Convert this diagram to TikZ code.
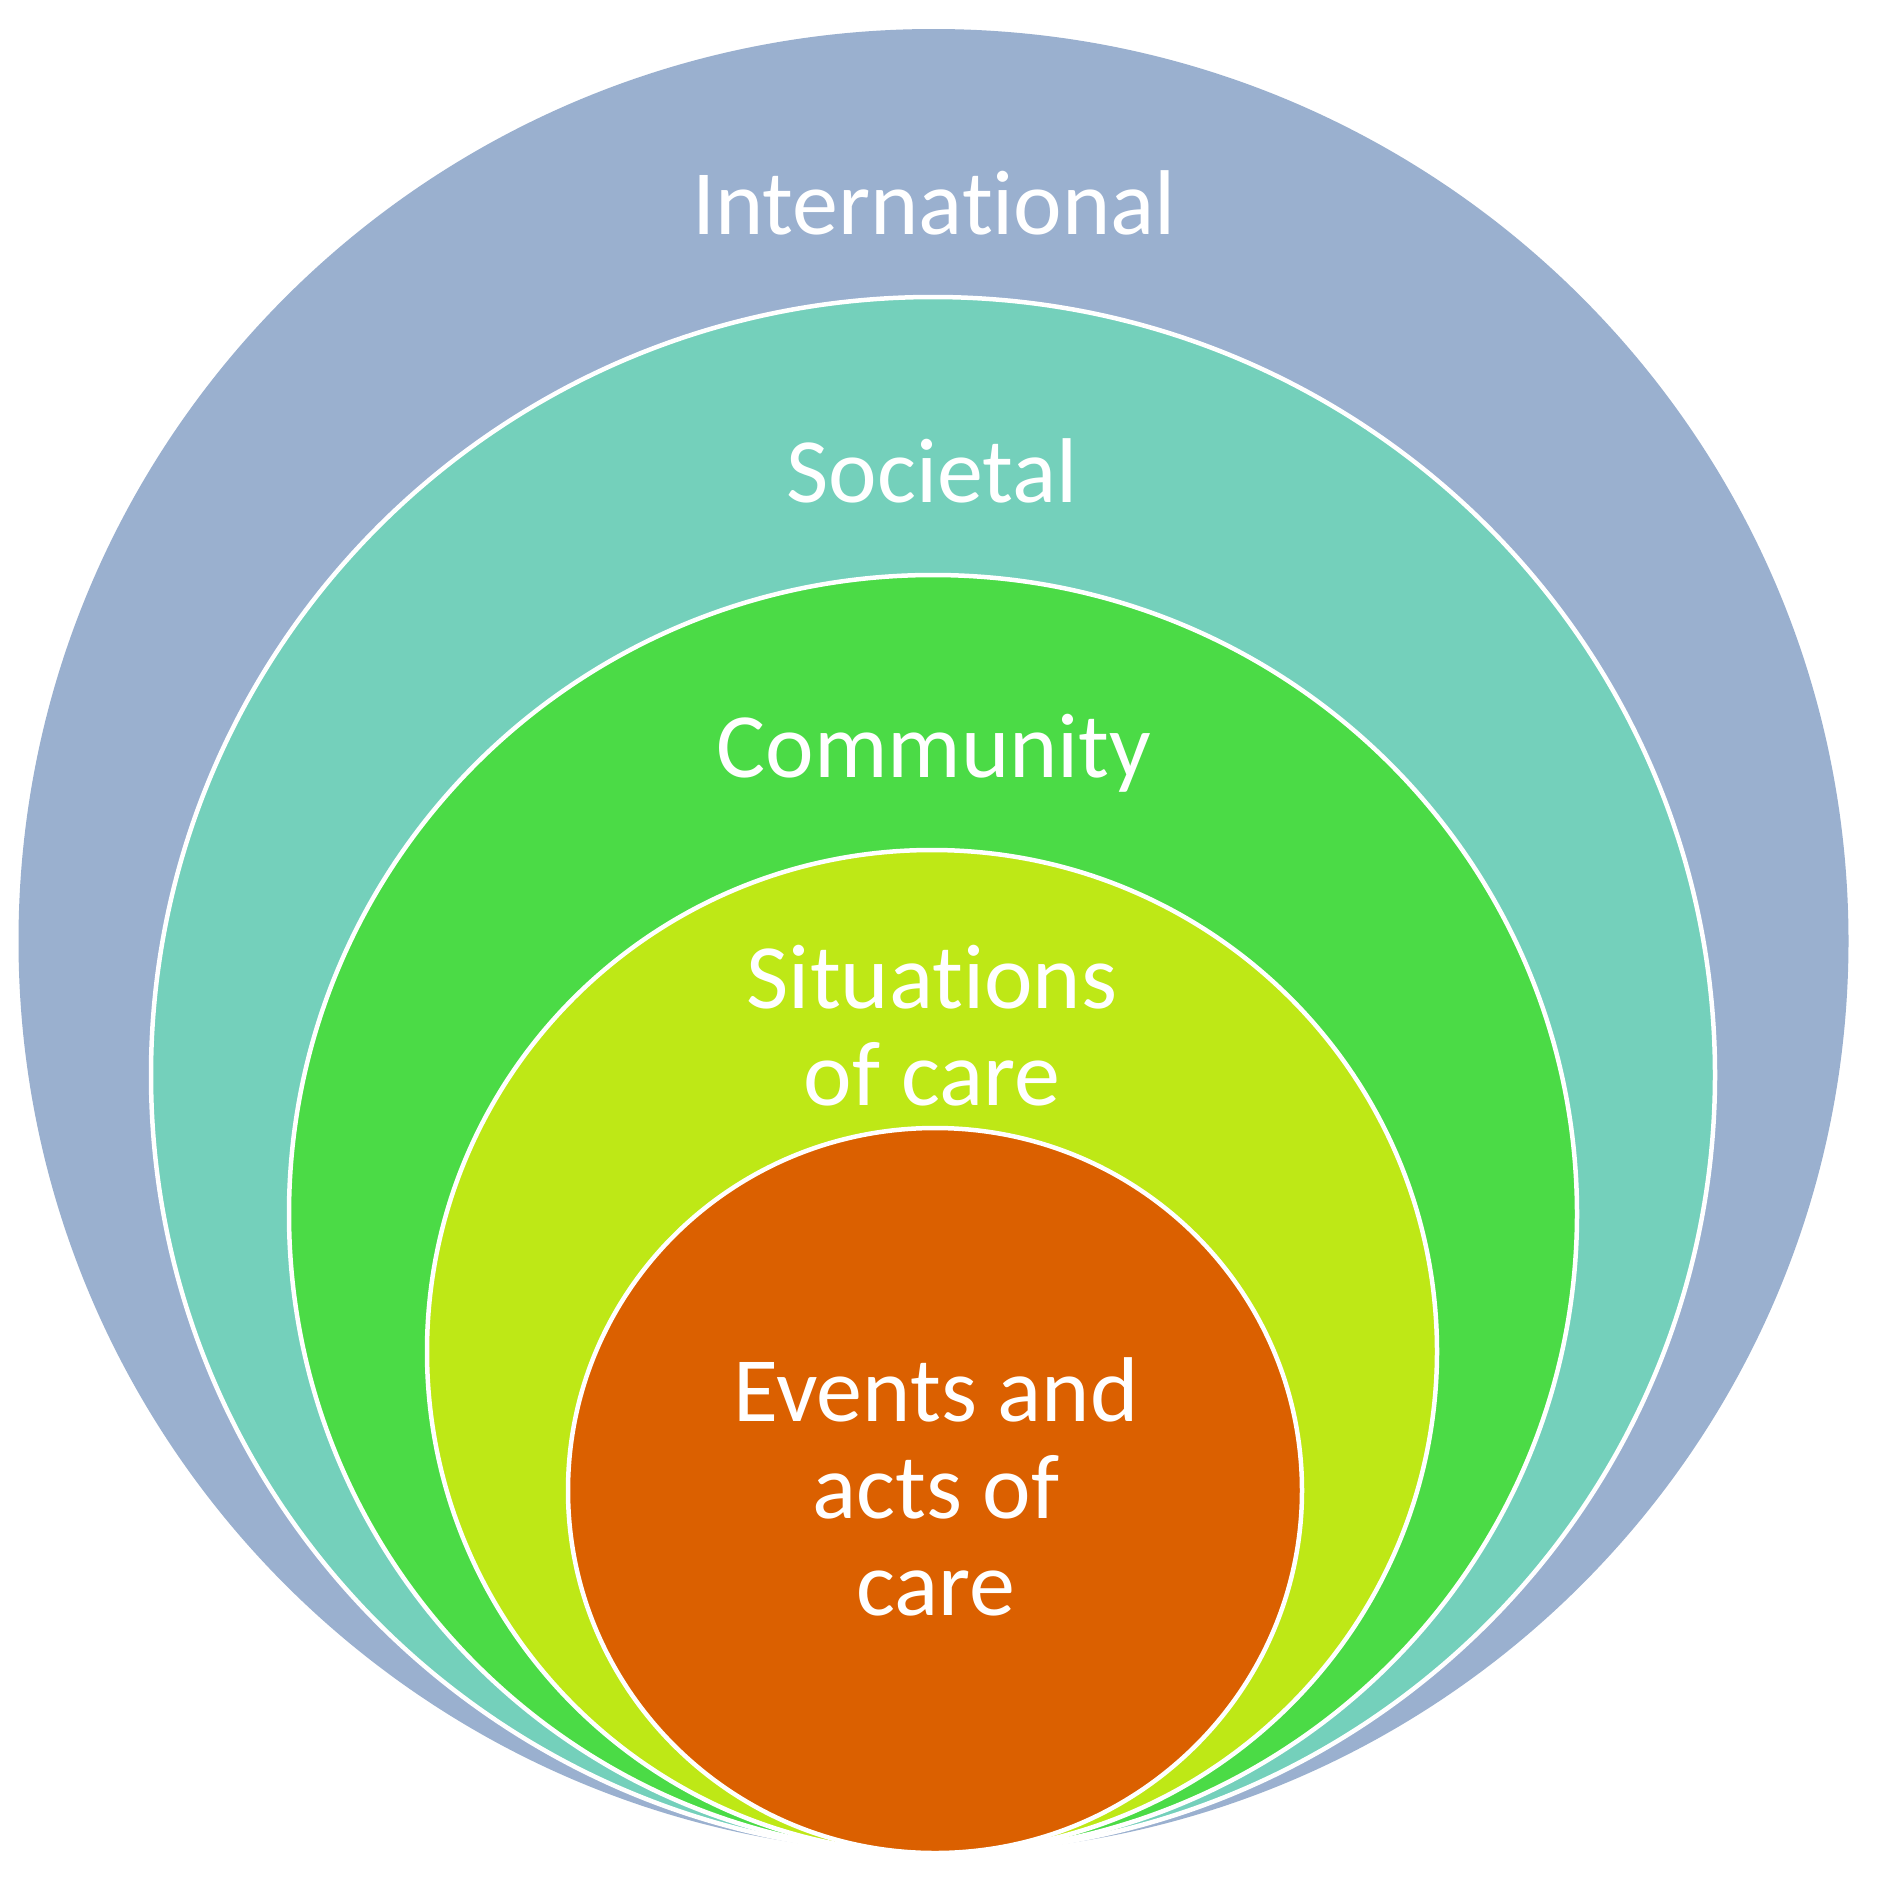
\documentclass[tikz,border=0pt]{standalone}
\usepackage{fontspec}
\setmainfont{Carlito}[Ligatures=NoCommon]
\definecolor{cIntl}{HTML}{9AB0CF}
\definecolor{cSoc}{HTML}{74D0BB}
\definecolor{cComm}{HTML}{4BDB46}
\definecolor{cSit}{HTML}{BEE816}
\definecolor{cEv}{HTML}{DB6000}
\tikzset{
  ring/.style={draw=white, line width=4.5pt},
  lbl/.style={text=white, font=\fontsize{92}{97}\selectfont, align=center, inner sep=0pt, anchor=base}
}
\begin{document}
\begin{tikzpicture}[x=1pt,y=-1pt]
\useasboundingbox[fill=white] (0,0) rectangle (1879,1885);
% rings (outer to inner), all tangent at the bottom
\path[fill=cIntl] (933.5,941) ellipse [x radius=915pt, y radius=912pt];
\path[ring, fill=cSoc]  (933,1075) ellipse [x radius=782pt, y radius=778pt];
\path[ring, fill=cComm] (933,1214) ellipse [x radius=644pt, y radius=639pt];
\path[ring, fill=cSit]  (932,1351.5) ellipse [x radius=505pt, y radius=501.5pt];
\path[ring, fill=cEv]   (935,1490.5) ellipse [x radius=367pt, y radius=362.5pt];
% labels (base = baseline of the last line)
\node[lbl] (intl) at (934,234) {International};
\node[lbl] (soc)  at (932,502) {Societal};
\node[lbl] (comm) at (934,777) {Community};
\node[lbl] (sit)  at (932,1105) {Situations\\of care};
\node[lbl] (ev)   at (936,1615) {Events and\\acts of\\care};
\end{tikzpicture}
\end{document}
